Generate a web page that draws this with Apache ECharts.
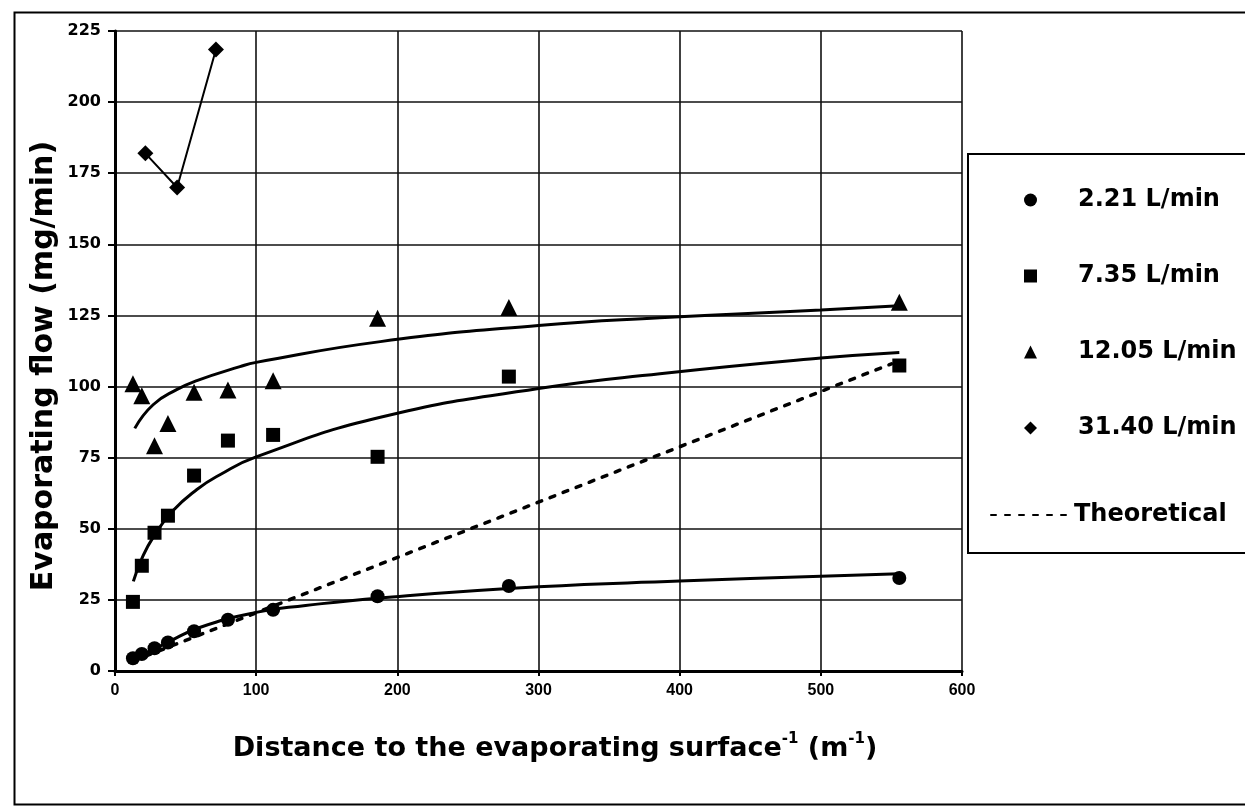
<!DOCTYPE html>
<html>
<head>
<meta charset="utf-8">
<script src="https://cdn.jsdelivr.net/npm/echarts@6/dist/echarts.min.js"></script>
<style>
html,body{margin:0;padding:0;background:#fff;}
#c{width:1245px;height:806px;}
</style>
</head>
<body>
<div id="c"></div>
<script>
// Measured x positions (inverse distance, m^-1)
const xVals = [12.7, 19, 28, 37.5, 56, 80, 112, 186, 279, 555.6];
// Series values (mg/min)
const flow221 = [4.5, 6, 8, 10, 14, 18, 21.5, 26.3, 29.9, 32.7];
const flow735 = [24.3, 37, 48.6, 54.6, 68.7, 81, 83, 75.3, 103.5, 107.4];
const flow1205 = [101, 96.8, 79.2, 87, 98, 98.8, 102, 124, 127.8, 129.6];
const xVals3140 = [21.5, 44, 71.5];
const flow3140 = [182, 170, 218.5];
// Trend curves
const fitX221 = [12.7, 25, 37, 60, 100, 135, 188, 300, 400, 500, 555.6];
const fit221 = [4, 7, 10, 15.3, 20.6, 23, 25.7, 29.6, 31.6, 33.3, 34.2];
const fitX735 = [13, 19, 27, 41, 58, 74, 100, 188, 300, 386, 500, 555.6];
const fit735 = [31.5, 39.5, 47, 56.3, 63.8, 68.9, 75.3, 89.2, 99.3, 104.5, 110, 112];
const fitX1205 = [14, 27, 44, 58, 88.5, 100, 188, 300, 386, 500, 555.6];
const fit1205 = [85.3, 93.6, 99, 102.1, 107, 108.5, 115.8, 121.5, 124.2, 126.9, 128.4];
// Theoretical line end points
const theoX = [12.7, 550];
const theoY = [3.5, 108];
// Names
const seriesNames = ['2.21 L/min', '7.35 L/min', '12.05 L/min', '31.40 L/min'];
const theoName = 'Theoretical';

const pairs = (xs, ys) => xs.map((x, i) => [x, ys[i]]);
const BLACK = '#000';

const chart = echarts.init(document.getElementById('c'), null, {renderer: 'canvas'});

const fitStyle = {color: BLACK, width: 3};
const legendText = {color: BLACK, fontFamily: 'DejaVu Sans', fontWeight: 'bold', fontSize: 24, lineHeight: 24};
const fitSeries = (name, xs, ys) => ({
  type: 'line', name: name, data: pairs(xs, ys), showSymbol: false, symbol: 'none',
  smooth: 0.5, lineStyle: fitStyle, silent: true, z: 1
});
const option = {
  backgroundColor: '#fff',
  animation: false,
  grid: {left: 115, right: 283, top: 31, bottom: 135, show: false},
  xAxis: {
    type: 'value', min: 0, max: 600, interval: 100,
    axisLine: {show: true, onZero: false, lineStyle: {color: BLACK, width: 3}},
    axisTick: {show: true, length: 5, inside: false, lineStyle: {color: BLACK, width: 2}},
    splitLine: {show: true, lineStyle: {color: '#111', width: 1.6}},
    axisLabel: {color: BLACK, fontFamily: 'Liberation Sans', fontWeight: 'bold', fontSize: 16, margin: 12}
  },
  yAxis: {
    type: 'value', min: 0, max: 225, interval: 25,
    axisLine: {show: true, onZero: false, lineStyle: {color: BLACK, width: 3}},
    axisTick: {show: true, length: 7, inside: false, lineStyle: {color: BLACK, width: 2}},
    splitLine: {show: true, lineStyle: {color: '#111', width: 1.6}},
    axisLabel: {color: BLACK, fontFamily: 'DejaVu Sans', fontWeight: 'bold', fontSize: 16, margin: 14}
  },
  legend: [
    {
      orient: 'vertical', left: 1024, top: 188, padding: 0,
      itemWidth: 13, itemHeight: 13, itemGap: 52,
      textStyle: Object.assign({padding: [0, 0, 0, 36]}, legendText),
      data: [
        {name: seriesNames[0], icon: 'circle'},
        {name: seriesNames[1], icon: 'rect'},
        {name: seriesNames[2], icon: 'triangle'},
        {name: seriesNames[3], icon: 'diamond'}
      ]
    },
    {
      orient: 'vertical', left: 990, top: 503, padding: 0,
      itemWidth: 78, itemHeight: 13, itemGap: 10,
      textStyle: legendText,
      data: [{name: theoName, itemStyle: {opacity: 0}}]
    }
  ],
  series: [
    fitSeries('fit221', fitX221, fit221),
    fitSeries('fit735', fitX735, fit735),
    fitSeries('fit1205', fitX1205, fit1205),
    {type: 'line', name: theoName, data: pairs(theoX, theoY), symbol: 'none', showSymbol: false,
      itemStyle: {color: BLACK},
      lineStyle: {color: BLACK, width: 3.5, type: [5, 9], cap: 'round'}, z: 1},
    {type: 'scatter', name: seriesNames[0], data: pairs(xVals, flow221), symbol: 'circle', symbolSize: 14, itemStyle: {color: BLACK, opacity: 1}, z: 3},
    {type: 'scatter', name: seriesNames[1], data: pairs(xVals, flow735), symbol: 'rect', symbolSize: 14, itemStyle: {color: BLACK, opacity: 1}, z: 3},
    {type: 'scatter', name: seriesNames[2], data: pairs(xVals, flow1205), symbol: 'triangle', symbolSize: 17, itemStyle: {color: BLACK, opacity: 1}, z: 3},
    {type: 'line', name: seriesNames[3], data: pairs(xVals3140, flow3140), symbol: 'diamond', symbolSize: 16, showSymbol: true,
      itemStyle: {color: BLACK}, lineStyle: {color: BLACK, width: 2}, z: 3}
  ],
  graphic: [
    {type: 'rect', left: 12, top: 10, z: 0, silent: true,
      shape: {width: 1260, height: 792}, style: {fill: 'none', stroke: BLACK, lineWidth: 2}},
    {type: 'rect', left: 967, top: 153, z: 0, silent: true,
      shape: {width: 300, height: 399}, style: {fill: '#fff', stroke: BLACK, lineWidth: 2}},
    {type: 'text', x: 44, y: 366, rotation: Math.PI / 2, silent: true,
      style: {text: 'Evaporating flow (mg/min)', fill: BLACK, fontFamily: 'DejaVu Sans', fontWeight: 'bold', fontSize: 30, align: 'center', verticalAlign: 'middle'}},
    {type: 'text', x: 555, y: 749, silent: true,
      style: {
        text: '{b|Distance to the evaporating surface}{s|-1}{b| (m}{s|-1}{b|)}',
        align: 'center', verticalAlign: 'middle', fill: BLACK,
        rich: {
          b: {fontFamily: 'DejaVu Sans', fontWeight: 'bold', fontSize: 27, lineHeight: 34, fill: BLACK},
          s: {fontFamily: 'DejaVu Sans', fontWeight: 'bold', fontSize: 15, lineHeight: 16, verticalAlign: 'top', fill: BLACK}
        }
      }}
  ]
};
chart.setOption(option);
</script>
</body>
</html>
